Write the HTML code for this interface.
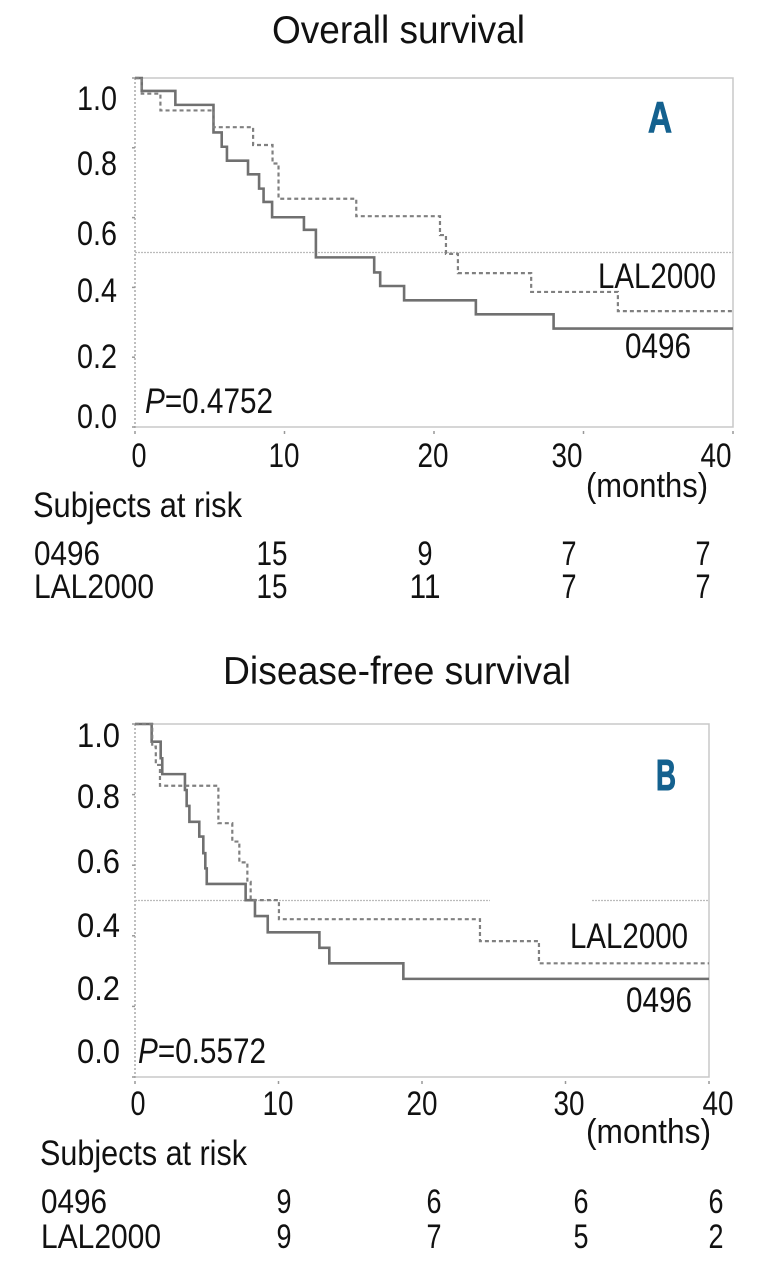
<!DOCTYPE html>
<html><head><meta charset="utf-8">
<style>
html,body{margin:0;padding:0;background:#fff;}
svg{display:block;}
text{font-family:"Liberation Sans Narrow","Liberation Sans",sans-serif;fill:#111;}
</style></head>
<body>
<svg id="chart" width="765" height="1280" viewBox="0 0 765 1280" xmlns="http://www.w3.org/2000/svg"></svg>
<script>
// Panel A: Overall survival
const aSolidTimes = [0.45,2.7,5.25,5.8,6.15,7.56,8.3,8.6,9.17,11.3,12.1,16.0,16.4,18.0,22.8,28.0];
const aSolidValues = [0.963,0.923,0.844,0.803,0.763,0.724,0.683,0.645,0.601,0.565,0.486,0.443,0.404,0.363,0.323,0.282];
const aDashTimes = [0.45,1.7,5.25,7.9,9.2,9.6,14.8,20.4,20.8,21.6,26.5,32.3];
const aDashValues = [0.955,0.907,0.859,0.808,0.755,0.654,0.604,0.55,0.496,0.441,0.387,0.332];
const aRisk0496 = ["15","9","7","7"];
const aRiskLAL = ["15","11","7","7"];
// Panel B: Disease-free survival
const bSolidTimes = [1.16,1.79,1.9,3.48,3.6,3.79,4.48,4.76,4.9,5.0,7.71,8.36,9.25,12.85,13.54,18.7];
const bSolidValues = [0.95,0.903,0.858,0.813,0.768,0.723,0.681,0.634,0.591,0.547,0.501,0.456,0.41,0.366,0.322,0.278];
const bDashTimes = [1.2,1.45,1.74,5.81,6.78,7.27,7.83,8.06,10.03,24.04,28.15];
const bDashValues = [0.936,0.884,0.825,0.719,0.667,0.608,0.553,0.501,0.447,0.385,0.322];
const bRisk0496 = ["9","6","6","6"];
const bRiskLAL = ["9","7","5","2"];
const xTickLabels = ["0","10","20","30","40"];
const yTickLabels = ["1.0","0.8","0.6","0.4","0.2","0.0"];

const NS = "http://www.w3.org/2000/svg";
const svg = document.getElementById('chart');
function mk(tag, attrs, parent){
  const e = document.createElementNS(NS, tag);
  for (const k in attrs) e.setAttribute(k, attrs[k]);
  (parent||svg).appendChild(e);
  return e;
}
function txt(parent, str, x, y, size, len, anchor){
  const e = mk('text', {x:x, y:y, 'font-size':size, 'text-anchor':anchor||'start'}, parent);
  if (len){ e.setAttribute('textLength', len); e.setAttribute('lengthAdjust','spacingAndGlyphs'); }
  e.textContent = str;
  return e;
}

function panel(cfg){
  const g = mk('g', {});
  
  
  const xs = m => cfg.x0 + (m/40)*(cfg.x1-cfg.x0);
  const ys = v => cfg.y0 - v*(cfg.y0-cfg.y1);

  const t = txt(g, cfg.title, cfg.titleX, cfg.titleY, 39, cfg.titleW);
  
  

  const fr = mk('path', {d:`M${cfg.x0},${cfg.y1} H${cfg.x1} V${cfg.y0} H${cfg.x0}`, fill:'none', stroke:'#c8c8c8', 'stroke-width':1.5}, g);
  
  
  const ya = mk('line', {x1:cfg.x0, y1:cfg.y1, x2:cfg.x0, y2:cfg.y0+2, stroke:'#aaa', 'stroke-width':1.5, 'stroke-dasharray':'2 2'}, g);
  
  

  const half = ys(0.5);
  cfg.medSegs.forEach(s => {
    const ml = mk('line', {x1:s[0], y1:half, x2:s[1], y2:half, stroke:'#bbb', 'stroke-width':1.2, 'stroke-dasharray':'2 1'}, g);
    
    
  });

  yTickLabels.forEach((lab,i) => {
    const v = parseFloat(lab);
    const tk = mk('line', {x1:cfg.x0-3, y1:ys(v), x2:cfg.x0, y2:ys(v), stroke:'#999', 'stroke-width':1.5}, g);
    
    
    const l = txt(g, lab, 77, cfg.yLabelBase[i], 34, cfg.yLabelW);
    
    
  });
  xTickLabels.forEach((lab,i) => {
    const m = parseFloat(lab);
    const tk = mk('line', {x1:xs(m), y1:cfg.y0+4, x2:xs(m), y2:cfg.y0+7, stroke:'#999', 'stroke-width':1.5}, g);
    
    
    const l = txt(g, lab, cfg.xLabelC[i], cfg.xLabelBase, 34, lab.length>1?31:15, 'middle');
    
    
  });
  const mo = txt(g, '(months)', cfg.monthsX, cfg.monthsY, 34, cfg.monthsW);
  
  

  function step(times, vals){
    let d = `M${xs(0)},${ys(1)}`;
    times.forEach((tm,i) => { d += ` H${xs(tm)} V${ys(vals[i])}`; });
    d += ` H${xs(40)}`;
    return d;
  }
  const sc = mk('path', {d:step(cfg.solidT, cfg.solidV), fill:'none', stroke:'#707070', 'stroke-width':2.6}, g);
  
  
  const dc = mk('path', {d:step(cfg.dashT, cfg.dashV), fill:'none', stroke:'#808080', 'stroke-width':2.2, 'stroke-dasharray':'4 3'}, g);
  
  

  const le = mk('text', {x:cfg.letterX, y:cfg.letterY, 'font-size':44, 'font-weight':'bold', textLength:cfg.letterW, lengthAdjust:'spacingAndGlyphs', style:'fill:#14618f;stroke:#14618f;stroke-width:1'}, g);
  le.textContent = cfg.letter;
  
  
  const l1 = txt(g, 'LAL2000', cfg.lalX, cfg.lalY, 35, 118);
  
  
  const l2 = txt(g, '0496', cfg.o4X, cfg.o4Y, 35, 66);
  
  
  const p = mk('text', {x:cfg.pX, y:cfg.pY, 'font-size':35, textLength:128, lengthAdjust:'spacingAndGlyphs'}, g);
  
  
  const pi = mk('tspan', {'font-style':'italic'}, p); pi.textContent = 'P';
  const pr = mk('tspan', {}, p); pr.textContent = '=' + cfg.pval;

  const st = txt(g, 'Subjects at risk', cfg.riskX, cfg.subjY, 35, cfg.subjW);
  
  
  const r1 = txt(g, '0496', cfg.riskX+1, cfg.row1Y, 34, 66);
  
  
  const r2 = txt(g, 'LAL2000', cfg.riskX+1, cfg.row2Y, 34, 120);
  
  
  cfg.risk1.forEach((n,i) => {
    const c = txt(g, n, cfg.riskC[i], cfg.row1Y, 34, n.length>1?31:15, 'middle');
    
    
  });
  cfg.risk2.forEach((n,i) => {
    const c = txt(g, n, cfg.riskC[i], cfg.row2Y, 34, n.length>1?31:15, 'middle');
    
    
  });
}

panel({name:'panel-a-overall-survival', title:'Overall survival', titleX:272, titleY:43, titleW:253,
  x0:135, x1:733, y0:427, y1:78, medSegs:[[135,733]],
  yLabelBase:[110,175,245,302,368,428], yLabelW:40,
  xLabelC:[139,284,433,567,716], xLabelBase:467,
  monthsX:586, monthsY:497, monthsW:122,
  solidT:aSolidTimes, solidV:aSolidValues, dashT:aDashTimes, dashV:aDashValues,
  letter:'A', letterX:648, letterY:132, letterW:24,
  lalX:598, lalY:288, o4X:625, o4Y:358, pX:145, pY:413, pval:'0.4752',
  riskX:33, subjY:517, subjW:209, row1Y:565, row2Y:598,
  risk1:aRisk0496, risk2:aRiskLAL, riskC:[272,425,569,703]});

panel({name:'panel-b-disease-free-survival', title:'Disease-free survival', titleX:223, titleY:684, titleW:348,
  x0:135, x1:709, y0:1077, y1:724, medSegs:[[135,490],[592,709]],
  yLabelBase:[747,808,873,937,1000,1063], yLabelW:43,
  xLabelC:[138,278,422,569,718], xLabelBase:1115,
  monthsX:586, monthsY:1143, monthsW:125,
  solidT:bSolidTimes, solidV:bSolidValues, dashT:bDashTimes, dashV:bDashValues,
  letter:'B', letterX:656, letterY:790, letterW:20,
  lalX:570, lalY:948, o4X:626, o4Y:1012, pX:138, pY:1063, pval:'0.5572',
  riskX:40, subjY:1165, subjW:207, row1Y:1213, row2Y:1248,
  risk1:bRisk0496, risk2:bRiskLAL, riskC:[284,434,581,716]});
</script>
</body></html>
